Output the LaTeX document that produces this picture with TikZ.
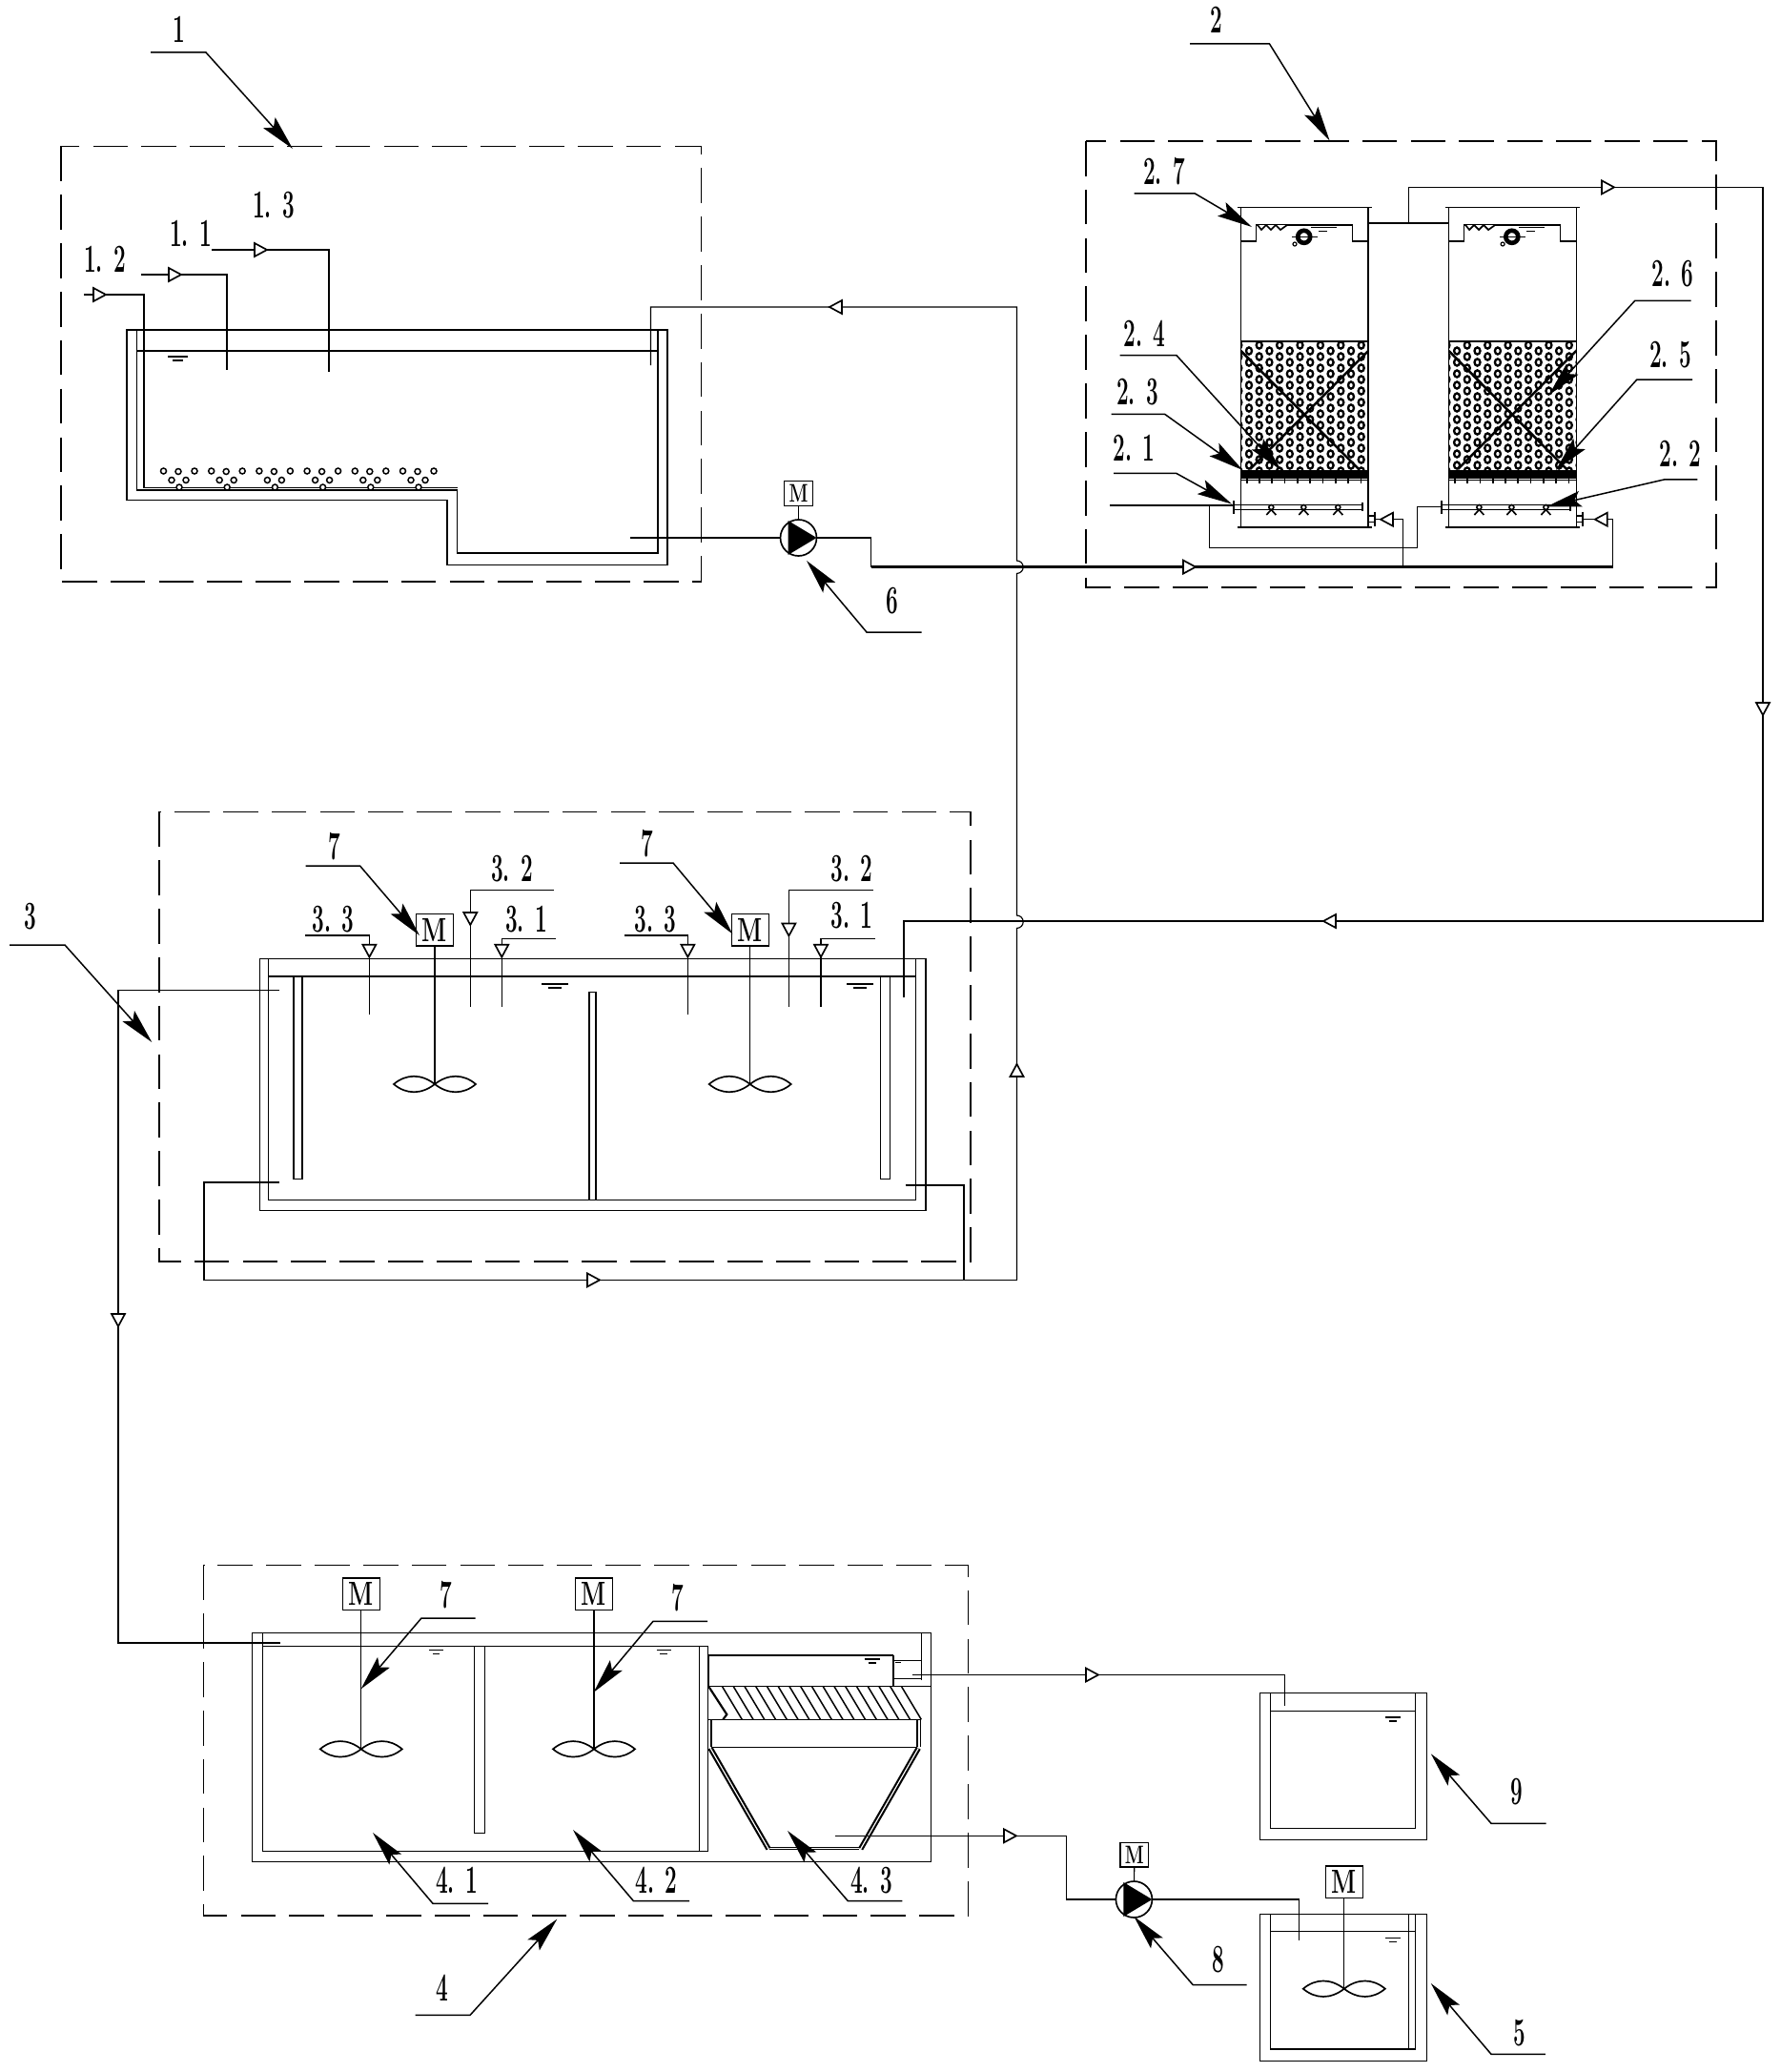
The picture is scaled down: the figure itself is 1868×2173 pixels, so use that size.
\documentclass[tikz,border=0pt]{standalone}
\usepackage{graphicx}
\usetikzlibrary{arrows.meta}

\newcommand{\tagtext}[1]{\scalebox{.54}[1]{\bfseries #1}}
\newcommand{\motortext}{\scalebox{.7}[1]{\bfseries M}}
\newcommand{\flowmark}[3]{\draw[flowtip,shift={(#1,#2)},rotate=#3] (-6,-7) -- (7,0) -- (-6,7) -- cycle;}
\newcommand{\waterlevel}[3]{\draw[pipe] (#1,#2) -- ++(#3,0) ({#1+#3*.25},{#2+4}) -- ++({#3*.5},0);}
\newcommand{\stirrer}[2]{\draw[blade,shift={(#1,#2)}]
  (0,0) .. controls (-14,-11) and (-30,-11) .. (-43,0) .. controls (-30,11) and (-14,11) .. (0,0)
  .. controls (14,-11) and (30,-11) .. (43,0) .. controls (30,11) and (14,11) .. (0,0);}
\newcommand{\pumpbody}[3]{%
  \node[pumpcirc] (#1) at (#2,#3) {};
  \fill[shift={(#2,#3)}] (-11,-18) -- (19,0) -- (-11,18) -- cycle;}

\tikzset{
  pipe/.style={line width=.7pt},
  mainpipe/.style={line width=1.7pt},
  boxline/.style={line width=.7pt,dash pattern=on 22pt off 8.5pt},
  blade/.style={line width=1pt},
  flowtip/.style={line width=1pt,fill=white},
  leader/.style={line width=.9pt,-{Stealth[length=22pt,width=10pt,inset=4pt]}},
  tag/.style={font=\fontsize{25}{25}\selectfont,inner sep=0pt},
  motorS/.style={draw,line width=.8pt,inner sep=0pt,minimum width=17.7pt,minimum height=15.3pt,font=\fontsize{16}{16}\selectfont},
  motorL/.style={draw,line width=.8pt,inner sep=0pt,minimum width=23.4pt,minimum height=20pt,font=\fontsize{21}{21}\selectfont},
  pumpcirc/.style={circle,draw,line width=1pt,inner sep=0pt,minimum size=22.8pt}
}

\begin{document}
\begin{tikzpicture}[x=.6pt,y=-.6pt]
\useasboundingbox (0,0) rectangle (1868,2173);

% dashed boxes
\draw[boxline] (64,153.5) rectangle (735.5,610);
\draw[boxline] (1139,148) rectangle (1800,616);
\draw[boxline] (167,851.4) rectangle (1018,1323);
\draw[boxline] (213.5,1641.4) rectangle (1015.4,2009);

% callouts
\foreach \nm/\txt/\tx/\ty/\ax/\ay/\bx/\by/\cx/\cy in {
  tagA/1/188/31/158/55/216/55/307/156,
  tagB/2/1276/21/1248/46/1331.5/46/1394.6/147.5,
  tagC/3/31.6/961/10/991/68/991/159.3/1093,
  tagD/4/463.6/2084.3/435.6/2113.4/493/2113.4/584.3/2012.6,
  tagE/5/1594.3/2131.7/1620.8/2154.3/1564/2154.3/1500.8/2080,
  tagF/6/936/630/966.7/663/909/663/846/588,
  tagG/7/351/888/320.7/908/377.5/908/440/981,
  tagH/7/678.6/885/650/905/706/905/768.4/979.5,
  tagI/7/468/1673/498.7/1697/442/1697/378.6/1771.3,
  tagJ/7/710.4/1676/742/1700.3/685/1700.3/622.7/1774.7,
  tagK/8/1277.8/2055/1307.7/2081.7/1251.3/2081.7/1189.4/2010,
  tagL/9/1591.3/1879.3/1621.6/1912.3/1564/1912.3/1500.8/1839.3,
  tagM/2. 7/1221/180/1189.7/203/1253.4/203/1313/238,
  tagN/2. 4/1200.5/350/1174.5/372.5/1233.8/372.5/1343.6/493,
  tagO/2. 3/1193/410.7/1165.7/434.3/1221.6/434.3/1303.4/493,
  tagP/2. 1/1189.7/469.6/1168/496.4/1233.8/496.4/1292/528.6,
  tagQ/2. 6/1754.4/287.5/1773.5/315.4/1714.7/315.4/1624.5/414.3,
  tagR/2. 5/1752/372/1775/398.2/1716.7/398.2/1632/492.9,
  tagS/2. 2/1762.7/475.7/1780.4/502.9/1745.6/502.9/1622/531.4,
  tagT/4. 1/479/1971.8/512/1996.3/454/1996.3/391/1922,
  tagU/4. 2/688.5/1971.8/723/1993.6/664.4/1993.6/601/1919,
  tagV/4. 3/914/1971.8/946.3/1993.6/889.3/1993.6/826/1920}{
  \node[tag] (\nm) at (\tx,\ty) {\tagtext{\txt}};
  \draw[leader] (\ax,\ay) coordinate (\nm-a) -- (\bx,\by) coordinate (\nm-b) -- (\cx,\cy) coordinate (\nm-c);
}

% dosing lines with their tags
\foreach \nm/\txt/\tx/\ty/\ax/\ay/\bx/\by/\mx/\my/\rot in {
  doseA/1. 3/287/215/222/262/345/390/273/262/0,
  doseB/1. 1/200/245/148/288/238/387.5/183/288/0,
  doseD/3. 3/349.5/964/320/981/387.4/1063.8/387.4/996.7/-90,
  doseE/3. 2/537/910.6/581/933.3/493.3/1056/493.3/963/-90,
  doseF/3. 1/552/964/582.5/984.6/526.3/1056/526.3/996.7/-90,
  doseG/3. 3/687.7/964/654.7/981/721.4/1063.8/721.4/996.7/-90,
  doseH/3. 2/893.3/910.6/915.8/933.3/827.4/1056/827.4/974.5/-90,
  doseI/3. 1/893.3/960.5/917.9/984.6/861/1056/861/996.7/-90}{
  \node[tag] (\nm) at (\tx,\ty) {\tagtext{\txt}};
  \draw[pipe] (\ax,\ay) coordinate (\nm-a) -| (\bx,\by) coordinate (\nm-b);
  \flowmark{\mx}{\my}{\rot}
}
\node[tag] (doseC) at (110,272) {\tagtext{1. 2}};
\draw[pipe] (88,309) coordinate (doseC-a) -| (151,511.5) coordinate (doseC-b) -- (479.5,511.5);
\flowmark{104}{309}{0}

% section 1 tank
\draw[pipe] (133,346) -- (133,524.5) -- (469,524.5) -- (469,592.5) -- (700,592.5) -- (700,346) -- cycle;
\draw[pipe] (143.5,346) -- (143.5,514) -- (479.5,514) -- (479.5,580) -- (690,580) -- (690,346);
\draw[line width=1pt] (143.5,368) -- (690,368);
\waterlevel{176}{374}{21}
\foreach \g in {0,1,2,3,4,5}{
  \foreach \bx/\by in {171.5/494,187/494.5,204/494,180/503.5,195/503.5,188/511}
    \draw[line width=.9pt,fill=white] ({\bx+50.2*\g},\by) circle (3);
}

% pump 6
\pumpbody{pumpA}{837.5}{564}
\node[motorS] (motorA) at (837.5,517.5) {\motortext};
\draw[pipe] (motorA) -- (pumpA);
\path (661,564) coordinate (suctA) (913.6,564) coordinate (riseA) (913.6,594.6) coordinate (mainA) (1691.6,594.6) coordinate (mainB);
\draw[pipe] (suctA) -- (pumpA.west) (pumpA.east) -- (riseA) -- (mainA);
\draw[mainpipe] (mainA) -- (mainB);
\flowmark{1247}{594.6}{0}

% filter columns
\foreach \dx in {0,218.1}{
\begin{scope}[shift={(\dx,0)}]
  \begin{scope}
    \clip (1301.5,358) rectangle (1435,493);
    \foreach \k in {0,...,13}
      \foreach \r in {0,...,11}
        \draw[line width=1.4pt] ({1299.3+10.7*\k},{362+12*\r+6*mod(\k,2)}) circle [x radius=3,y radius=3.6];
  \end{scope}
  \draw[pipe] (1301.5,217.5) -- (1301.5,553) (1435,217.5) -- (1435,553);
  \draw[pipe] (1297.5,217.5) -- (1439,217.5);
  \draw[line width=1.3pt] (1297.5,553) -- (1439,553);
  \draw[pipe] (1301.5,253) -- (1317.7,253) -- (1317.7,236) -- (1418.3,236) -- (1418.3,253) -- (1435,253);
  \draw[line width=1pt,fill=white] (1319,236) -- (1323,241) -- (1328,236) -- (1333,241) -- (1338,236) -- (1343,241) -- (1350,236);
  \draw[line width=2.8pt,fill=white] (1367.7,248.3) circle (6.5);
  \draw[pipe] (1355,248.3) -- (1382,248.3);
  \draw[pipe] (1358,256) circle (2);
  \draw[pipe] (1375,238.7) -- (1402,238.7) (1383,242.7) -- (1392,242.7);
  \draw[pipe] (1301.5,358) -- (1435,358);
  \draw[line width=1.5pt] (1301.5,368) -- (1425,492) (1435,368) -- (1311,492);
  \fill (1300.7,492.7) rectangle (1435.7,501.7);
  \draw[pipe] (1300.7,503.3) -- (1435.7,503.3);
  \foreach \t in {0,...,9}
    \draw[line width=1pt] ({1307.7+13.3*\t},501) -- ({1307.7+13.3*\t},507);
  \draw[pipe] (1294,529.5) -- (1429,529.5) (1294,534.2) -- (1429,534.2);
  \draw[line width=1.2pt] (1294,525) -- (1294,538.5) (1429,527) -- (1429,535.5);
  \foreach \h in {1333.3,1367.3,1403.3}
    \draw[line width=1pt,fill=white] (\h,532) circle (2.5) (\h,534.5) -- ++(-5,5.5) (\h,534.5) -- ++(5,5.5);
  \draw[pipe] (1435,541) -- (1441.7,541) (1435,547.7) -- (1441.7,547.7);
  \draw[line width=1.2pt] (1441.7,536.7) -- (1441.7,551.7);
\end{scope}
}
\path (1164,530) coordinate (airIn) (1293.6,530) coordinate (airA) (1268.5,530) coordinate (airT)
  (1268.5,574.3) coordinate (airL) (1486.7,574.3) coordinate (airR) (1486.7,531.5) coordinate (airU) (1511.8,531.5) coordinate (airB);
\draw[pipe] (airIn) -- (airA) (airT) -- (airL) -- (airR) -- (airU) -- (airB);
\draw[pipe] (1441.7,544.7) -| (1471.7,594.6);
\draw[pipe] (1660,544.7) -| (mainB);
\flowmark{1455}{544.7}{180}
\flowmark{1679.8}{544.7}{180}
\path (1435,234) coordinate (overL) (1519.6,234) coordinate (overR) (1477.5,234) coordinate (overT)
  (1477.5,196.4) coordinate (overU) (1849,196.4) coordinate (overE) (1849,966) coordinate (overD);
\draw[pipe] (overL) -- (overR) (overT) -- (overU) -- (overE) -- (overD) -- (948,966) -- (948,1046);
\flowmark{1686}{196.4}{0}
\flowmark{1849}{743}{-90}
\flowmark{1395}{966}{180}

% return line with hops
\path (682.5,383) coordinate (backA) (682.5,322) coordinate (backB) (1066.5,322) coordinate (backC) (1066.5,1342.4) coordinate (backD);
\draw[pipe] (backA) -- (backB) -- (backC) -- (1066.5,588) arc (-90:90:6.7) -- (1066.5,960) arc (-90:90:6.7) -- (backD);
\flowmark{877}{322}{180}
\flowmark{1066.5}{1123}{90}
\draw[pipe] (292.6,1240) -- (214,1240) -- (214,1342.4) -- (backD);
\draw[pipe] (949.5,1243) -- (1011,1243) -- (1011,1342.4);
\flowmark{622}{1342.4}{0}

% section 3 tank
\draw[pipe] (272.3,1005.3) rectangle (971,1269.8);
\draw[pipe] (281.4,1005.3) -- (281.4,1258.4) -- (960.7,1258.4) -- (960.7,1005.3);
\draw[line width=1pt] (281.4,1024) -- (960.7,1024);
\draw[pipe] (308,1024) rectangle (317,1236.7) (923.5,1024) rectangle (933.3,1236.7);
\draw[pipe] (618,1258.4) -- (618,1040.4) -- (625,1040.4) -- (625,1258.4);
\waterlevel{568}{1032}{28}
\waterlevel{888}{1032}{28}
\node[motorL] (motorB) at (456,975.2) {\motortext};
\node[motorL] (motorC) at (786.7,975.2) {\motortext};
\path (456,1137) coordinate (hubB) (786.7,1137) coordinate (hubC);
\draw[pipe] (motorB) -- (hubB) (motorC) -- (hubC);
\stirrer{456}{1137}
\stirrer{786.7}{1137}
\path (292.6,1038.3) coordinate (outA) (124,1038.3) coordinate (outB) (124,1723) coordinate (outC) (294,1723) coordinate (outD);
\draw[pipe] (outA) -- (outB) -- (outC) -- (outD);
\flowmark{124}{1384}{-90}

% section 4 tank
\draw[pipe] (264.5,1712.4) rectangle (976.5,1952.7);
\draw[pipe] (275.4,1712.4) -- (275.4,1941.3) -- (742.8,1941.3) -- (742.8,1726.3) -- (275.4,1726.3);
\draw[pipe] (733.4,1726.3) -- (733.4,1941.3);
\draw[pipe] (497.6,1726.3) rectangle (508.6,1922.6);
\waterlevel{450}{1730.4}{15}
\waterlevel{688.5}{1730.4}{15}
\node[motorL] (motorD) at (378.8,1671.5) {\motortext};
\node[motorL] (motorE) at (623,1671.5) {\motortext};
\path (378.8,1834.3) coordinate (hubD) (623,1834.3) coordinate (hubE);
\draw[pipe] (motorD) -- (hubD) (motorE) -- (hubE);
\stirrer{378.8}{1834.3}
\stirrer{623}{1834.3}
% settler
\draw[pipe] (966.7,1712.4) -- (966.7,1761.7);
\draw[pipe] (743.3,1736) -- (936.7,1736);
\draw[line width=1.3pt] (743.3,1736) -- (743.3,1768.3) (936.7,1736) -- (936.7,1768.3);
\draw[pipe] (936.7,1741.3) -- (966.7,1741.3) (936.7,1760.7) -- (966.7,1760.7);
\draw[pipe] (743,1768.3) -- (976.5,1768.3);
\waterlevel{906.7}{1740}{16.6}
\draw[pipe] (939,1743.3) -- (945,1743.3);
\foreach \k in {0,...,16}
  \draw[line width=.9pt] ({757.3+11.75*\k},1768.3) -- ({778.3+11.75*\k},1803.3);
\draw[line width=1.3pt] (743,1768.3) -- (762.3,1798) -- (758.3,1803.3);
\draw[pipe] (742.7,1803.3) -- (965.7,1803.3) (746,1832.3) -- (962.3,1832.3);
\draw[line width=1.3pt] (746,1803.3) -- (746,1832.3) (962.3,1803.3) -- (962.3,1832.3);
\draw[pipe] (965.7,1803.3) -- (965.7,1832.3);
\draw[line width=1.3pt,double,double distance=.7pt] (745,1833.3) -- (806,1939);
\draw[line width=1.3pt,double,double distance=.7pt] (963.3,1833.3) -- (902.7,1939);
\draw[pipe] (807.3,1937.3) -- (900.7,1937.3) (807.3,1939.5) -- (900.7,1939.5);
\path (956.7,1756.5) coordinate (clearA) (1347.2,1756.5) coordinate (clearB) (1347.2,1789.3) coordinate (clearC);
\draw[pipe] (clearA) -- (clearB) -- (clearC);
\flowmark{1145}{1756.5}{0}

% tank 9
\draw[pipe] (1321.5,1775.7) rectangle (1496.6,1929.3);
\draw[pipe] (1332.5,1775.7) -- (1332.5,1917.3) -- (1484.4,1917.3) -- (1484.4,1775.7);
\draw[pipe] (1332.5,1794.3) -- (1484.4,1794.3);
\waterlevel{1452.9}{1801}{16.4}

% pump 8 and tank 5
\path (876,1925.3) coordinate (sludgeA) (1118.3,1925.3) coordinate (sludgeB) (1118.3,1992) coordinate (sludgeC)
  (1362.4,1992) coordinate (sludgeD) (1362.4,2035.3) coordinate (sludgeE);
\pumpbody{pumpB}{1189.4}{1992}
\node[motorS] (motorF) at (1189.8,1945.3) {\motortext};
\draw[pipe] (motorF) -- (pumpB);
\draw[pipe] (sludgeA) -- (sludgeB) -- (sludgeC) -- (pumpB.west) (pumpB.east) -- (sludgeD) -- (sludgeE);
\flowmark{1059}{1925.3}{0}
\draw[pipe] (1321.5,2007.7) rectangle (1496.6,2161.3);
\draw[pipe] (1332.5,2007.7) -- (1332.5,2149) -- (1484.4,2149) -- (1484.4,2007.7);
\draw[pipe] (1477.7,2007.7) -- (1477.7,2149);
\draw[pipe] (1332.5,2025.3) -- (1484.4,2025.3);
\waterlevel{1452.9}{2032.7}{16.4}
\node[motorL] (motorG) at (1409.8,1973.5) {\motortext};
\path (1409.8,2085.7) coordinate (hubG);
\draw[pipe] (motorG) -- (hubG);
\stirrer{1409.8}{2085.7}

\end{tikzpicture}
\end{document}
